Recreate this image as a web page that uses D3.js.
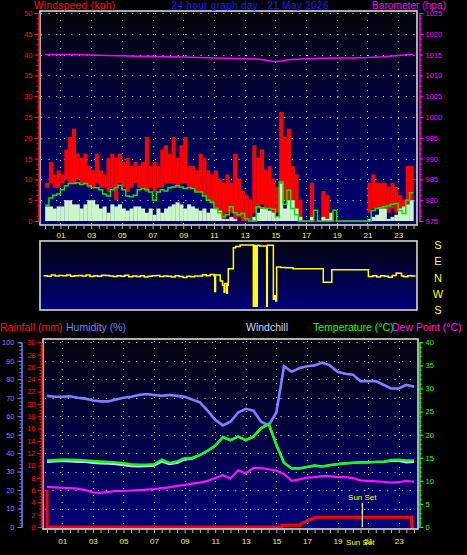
<!DOCTYPE html>
<html><head><meta charset="utf-8">
<script src="https://cdn.jsdelivr.net/npm/d3@7"></script>
<style>body{margin:0;background:#000;}svg{display:block;}</style>
</head><body>
<script>
// ---------- DATA ----------
// Top chart: 15-minute samples (96)
const windGust = [
 9,14,11,12, 11,17,20,22, 16,15,16,13, 12,16,12,11, 15,16,15,16, 14,15,13,14,
 13,14,20,13, 14,13,17,18, 16,20,15,18, 20,13,13,12, 16,15,12,11, 12,10,9,11,
 9,16,10,7, 6,5,18,15, 17,12,13,10, 8,26,20,22, 13,11,5,0, 0,9,0,0,
 7,6,1,0, 0,0,0,0, 0,0,0,0, 9,11,9,9, 9,8,9,8, 6,5,13,13];
const windSpeed = [
 8,9,8,8, 9,10,9,9, 10,9,9,8, 8,9,8,8, 7,8,5,9, 8,7,8,9,
 8,8,7,8, 7,8,8,9, 9,9,8,9, 9,8,8,7, 7,6,5,4, 3,2,0,2,
 2,0,1,0, 0,0,2,3, 4,3,3,1, 2,4,5,3, 2,1,0,0, 0,1,0,0,
 1,0,0,0, 0,0,0,0, 0,0,0,0, 2,3,3,3, 3,2,3,2, 1,2,4,5];
const windAvg = [
 3.5,3.5,3,3.5, 3.5,5,5,4, 4,3,4,5, 5,4,3,3.5, 2,4,3.5,4, 3,2.5,3,3.5,
 3.5,3,2,3, 1.5,3,2,3, 3.5,4,4.5,4, 3,4,3.5,3, 2.5,3,2,3, 3,2.5,0.5,0.5,
 1,0.5,0,0, 0,0,1,2, 3,3,2.5,2, 1,9,3,5, 5,3,1,0, 0,1,0,0,
 1,0.5,2,0, 0,0,0,0, 0,0,0,0, 0.5,1,1.5,3, 3,0.5,1,1.5, 3,3.5,4,5];
const windMean = [
 3.8,5.5,6.2,6.5, 7.5,8.5,9,9, 9.2,8.8,9,8.5, 8,8,7.5,6.5, 6,7.5,8,8.6, 7.5,6,5.8,6.2,
 7.5,7.8,7.5,7, 5,7,7.5,7.2, 8,8.2,8.5,8.2, 7.8,8,7.8,7, 7,6,5,4.5, 3,2,1,1.5,
 3.4,2,1.5,1.8, 0.5,0,0,3.4, 3.2,3,3,2.8, 1,9.4,4,7.4, 3,1.5,0,0, 0,0,2.6,0,
 0,0,0,2.6, 0,0,0,0, 0,0,0,0, 0,2.5,3,3.2, 3.4,3.6,4,4.2, 2.5,1.8,5,6.8];
// hourly barometer (25)
const barometer = [1015.0,1015.0,1015.0,1014.9,1014.8,1014.7,1014.6,1014.6,1014.5,1014.4,1014.3,1014.2,
 1014.1,1014.0,1013.9,1013.3,1013.8,1014.0,1014.1,1014.2,1014.2,1014.3,1014.5,1014.8,1015.1];
// wind direction, signed degrees (+ = east)
const dirHours = [0,0.25,0.5,0.75,1,1.25,1.5,1.75,2,2.25,2.5,2.75,3,3.25,3.5,3.75,4,4.25,4.5,4.75,
 5,5.25,5.5,5.75,6,6.25,6.5,6.75,7,7.25,7.5,7.75,8,8.25,8.5,8.75,9,9.25,9.5,9.75,10,
 10.25,10.5,10.75,11,11.05,11.1,11.4,11.55,11.65,11.7,11.82,11.86,11.92,12.25,12.4,12.68,
 13.54,13.58,13.63,13.67,13.75,13.79,13.95,14.4,14.44,14.83,14.9,14.98,15.04,15.3,15.6,16.1,
 18.05,18.6,20.96,21.25,21.5,21.75,22,22.25,22.5,22.75,22.9,23.1,23.25,23.5,23.75,24];
const dirValues = [5,2,8,3,6,4,8,2,5,6,3,8,0,5,2,7,6,3,0,5,
 2,7,-2,3,0,4,-3,2,5,6,0,3,2,-3,4,0,-5,2,-2,3,3,
 10,5,12,5,-85,8,-25,-50,-90,-40,-95,-50,44,165,172,180,
 -170,178,-170,176,-170,178,175,-170,178,-130,-110,-140,55,52,50,44,
 -33,38,0,5,-3,4,2,-4,6,20,18,3,-2,5,3,3];
const dirLabels = [["S",180],["E",90],["N",0],["W",-90],["S",-180]];
// Bottom chart: 30-minute samples (49)
const humidity = [71,70.5,70.5,70.8,70,69.5,68.5,68,68,69,70,70.5,71.5,72,71.5,71,71.5,71,70.5,69,
 67.5,63,58,55,57,62,64,63,57,55,62,87,84,86,87,87.5,89,87.5,84,83,82.5,79,79,79,77,75,75,77,76];
const temperature = [14.4,14.5,14.6,14.6,14.5,14.4,14.3,14.2,14.1,14.0,13.8,13.6,13.5,13.5,13.6,14.6,13.9,14.2,14.9,15.0,
 15.6,16.5,17.6,19.5,18.8,19.6,18.8,19.6,21.4,22.3,17.8,13.9,12.7,12.7,13.0,13.3,13.1,13.4,13.6,13.8,
 13.9,14.0,14.0,14.1,14.1,14.5,14.6,14.4,14.4];
const windchill = [14.1,14.2,14.3,14.2,14.1,14.1,13.9,13.8,13.7,13.6,13.4,13.2,13.1,13.2,13.3,14.2,13.6,13.9,14.6,14.8,
 15.6,16.5,17.6,19.5,18.8,19.6,18.8,19.6,21.4,22.3,17.8,13.9,12.7,12.7,13.0,13.3,13.1,13.4,13.6,13.8,
 13.9,14.0,14.0,14.1,14.1,14.3,14.3,14.0,14.1];
const dewPoint = [8.7,8.6,8.5,8.4,8.3,8.0,7.5,7.4,7.6,7.8,7.8,7.9,8.0,8.1,8.2,8.4,8.6,8.9,9.1,9.4,
 9.6,10.0,10.6,11.2,10.5,12.3,11.6,12.8,12.8,12.5,12.2,11.5,10.0,10.3,10.7,10.8,11.0,11.0,10.8,10.8,
 10.6,10.1,10.0,9.9,9.8,9.6,9.7,10.0,9.8];
const rainHours = [0,0,15.35,15.35,16.55,16.55,17.0,17.3,17.6,23.85,23.85,24];
const rainValues = [6,0,0,0.3,0.3,0.45,1.0,1.3,1.6,1.6,0,0];
const sunsetHour = 20.62;
const hourLabels = ["01","03","05","07","09","11","13","15","17","19","21","23"];
const titleText = "24 hour graph day : 21 May 2026";

// ---------- DRAW ----------
const W=467,H=555;
const FONT="'Liberation Sans', Arial, sans-serif";
const svg=d3.select("body").append("svg").attr("width",W).attr("height",H).style("background","#000");
const defs=svg.append("defs");
function grad(id){
  const g=defs.append("linearGradient").attr("id",id).attr("x1",0).attr("y1",0).attr("x2",0).attr("y2",1);
  g.append("stop").attr("offset","0%").attr("stop-color","#04040c");
  g.append("stop").attr("offset","100%").attr("stop-color","#00007a");
}
grad("bg");
const hourOf = i=>i*0.25, hourOf2=i=>i*0.5;
const GRID="#e8e8e8";
const fmt=d3.format("d");

function txt(x,y,s,color,size,anchor){
  return svg.append("text").attr("x",x).attr("y",y).text(s).attr("fill",color)
    .attr("font-family",FONT).attr("font-size",size).attr("text-anchor",anchor||"start");
}
function styleAxis(g,color,size){
  g.selectAll("path,line").attr("stroke",color);
  g.selectAll("text").attr("fill",color).attr("font-family",FONT).attr("font-size",size||7.5);
}

// ===== TOP PANEL =====
const xT=d3.scaleLinear([0,24],[45.1,413.5]);
const yW=d3.scaleLinear([0,50],[221,13]);
const yB=d3.scaleLinear([975,1025],[221,13]);
const topG=svg.append("g");
topG.append("rect").attr("x",40).attr("y",11).attr("width",377).attr("height",214).attr("fill","url(#bg)");
topG.append("g").selectAll("line").data(d3.range(5,51,5)).join("line")
  .attr("x1",41).attr("x2",416).attr("y1",d=>Math.round(yW(d))+0.5).attr("y2",d=>Math.round(yW(d))+0.5)
  .attr("stroke",GRID).attr("stroke-dasharray","1,6.6");
topG.append("g").selectAll("line").data(d3.range(1,24,2)).join("line")
  .attr("x1",d=>Math.round(xT(d))+0.5).attr("x2",d=>Math.round(xT(d))+0.5).attr("y1",13).attr("y2",224)
  .attr("stroke",GRID).attr("stroke-dasharray","1,6");
const bw=(xT(0.25)-xT(0));
const wd=windGust.map((g,i)=>({h:hourOf(i),g,s:windSpeed[i],a:windAvg[i],m:windMean[i]}));
topG.append("g").selectAll("rect").data(wd).join("rect")
  .attr("x",d=>xT(d.h)).attr("width",bw+0.2)
  .attr("y",d=>yW(d.g)-0.8).attr("height",d=>Math.max(1.6,yW(d.s)-yW(d.g)+0.8))
  .attr("fill","#ff0000");
topG.append("g").selectAll("rect").data(wd.filter(d=>d.a>0)).join("rect")
  .attr("x",d=>xT(d.h)).attr("width",bw+0.2)
  .attr("y",d=>yW(d.a)).attr("height",d=>yW(0)-yW(d.a))
  .attr("fill","#ccf5cc");
const meanPts=wd.map(d=>[d.h,d.m]).concat([[24,windMean[95]]]);
topG.append("path").datum(meanPts)
  .attr("d",d3.line().x(d=>xT(d[0])).y(d=>yW(d[1])).curve(d3.curveStepAfter))
  .attr("fill","none").attr("stroke","#10e010").attr("stroke-width",1.5);
topG.append("path").datum(barometer.map((v,i)=>[i,v]))
  .attr("d",d3.line().x(d=>xT(d[0])).y(d=>yB(d[1])))
  .attr("fill","none").attr("stroke","#ff00ff").attr("stroke-width",1.5);
topG.append("rect").attr("x",40).attr("y",11).attr("width",377).attr("height",214)
  .attr("fill","none").attr("stroke","#d8d8d8").attr("stroke-width",1.6);
let g=svg.append("g").attr("transform","translate(38.5,0)")
  .call(d3.axisLeft(yW).tickValues(d3.range(0,50.1,1.25)).tickSize(2).tickFormat(""));
styleAxis(g,"#ff1010");
g=svg.append("g").attr("transform","translate(38.5,0)")
  .call(d3.axisLeft(yW).tickValues(d3.range(0,51,5)).tickSize(4).tickSizeOuter(0).tickPadding(2).tickFormat(fmt));
styleAxis(g,"#ff1010");
g=svg.append("g").attr("transform","translate(419.5,0)")
  .call(d3.axisRight(yB).tickValues(d3.range(975,1025.1,1.25)).tickSize(2).tickFormat(""));
styleAxis(g,"#ff00ff");
g=svg.append("g").attr("transform","translate(419.5,0)")
  .call(d3.axisRight(yB).tickValues(d3.range(975,1026,5)).tickSize(4).tickSizeOuter(0).tickPadding(2).tickFormat(fmt));
styleAxis(g,"#ff00ff");
g=svg.append("g").attr("transform","translate(0,226)")
  .call(d3.axisBottom(xT).tickValues(d3.range(0,24.01,0.5)).tickSize(3).tickFormat("").tickSizeOuter(0));
g.select(".domain").remove(); styleAxis(g,"#b8b8b8");
g=svg.append("g").attr("transform","translate(0,226)")
  .call(d3.axisBottom(xT).tickValues(d3.range(1,24,2)).tickSize(0).tickPadding(6).tickFormat((d,i)=>hourLabels[i]));
g.select(".domain").remove(); styleAxis(g,"#ffff00",8);
txt(34,9,"Windspeed (kph)","#ff1010",10).attr("textLength",81).attr("lengthAdjust","spacing");
txt(171.5,9,titleText,"#1c1cff",10).attr("textLength",157).attr("lengthAdjust","spacing");
txt(372,9,"Barometer (hpa)","#ff00ff",10).attr("textLength",74).attr("lengthAdjust","spacing");

// ===== MIDDLE PANEL =====
const xD=d3.scaleLinear([0,24],[43.5,415.5]);
const yD=d3.scaleLinear([-180,180],[308,245]);
svg.append("rect").attr("x",40).attr("y",241).attr("width",377).attr("height",69).attr("fill","url(#bg)");
const dirPts=dirHours.map((h,i)=>[h,dirValues[i]]);
svg.append("path").datum(dirPts)
  .attr("d",d3.line().x(d=>xD(d[0])).y(d=>yD(d[1])).curve(d3.curveStepAfter))
  .attr("fill","none").attr("stroke","#ffff00").attr("stroke-width",1.5);
svg.append("rect").attr("x",40).attr("y",241).attr("width",377).attr("height",69)
  .attr("fill","none").attr("stroke","#d8d8d8").attr("stroke-width",1.6);
svg.append("g").selectAll("text").data(dirLabels).join("text")
  .attr("x",438).attr("y",d=>d3.scaleLinear([-180,180],[310,245])(d[1])+4).text(d=>d[0])
  .attr("fill","#ffff00").attr("font-family",FONT).attr("font-size",11).attr("text-anchor","middle");

// ===== BOTTOM PANEL =====
const xB=d3.scaleLinear([0,24],[47,414]);
const yR=d3.scaleLinear([0,30],[527,342.3]);
const yH=d3.scaleLinear([0,100],[527,342.3]);
const yT=d3.scaleLinear([0,40],[527,342.3]);
const bot=svg.append("g");
bot.append("rect").attr("x",43).attr("y",339).attr("width",375).attr("height",190).attr("fill","url(#bg)");
bot.append("g").selectAll("line").data(d3.range(10,101,10)).join("line")
  .attr("x1",45).attr("x2",417).attr("y1",d=>Math.round(yH(d))+0.5).attr("y2",d=>Math.round(yH(d))+0.5)
  .attr("stroke",GRID).attr("stroke-dasharray","1,6.6");
bot.append("g").selectAll("line").data(d3.range(1,24,2)).join("line")
  .attr("x1",d=>Math.round(xB(d))+0.5).attr("x2",d=>Math.round(xB(d))+0.5).attr("y1",341).attr("y2",528)
  .attr("stroke",GRID).attr("stroke-dasharray","1,6");
const ln=(ys)=>d3.line().x(d=>xB(d[0])).y(d=>ys(d[1]));
bot.append("path").datum(humidity.map((v,i)=>[hourOf2(i),v])).attr("d",ln(yH))
  .attr("fill","none").attr("stroke","#7f7fff").attr("stroke-width",2.6);
bot.append("path").datum(windchill.map((v,i)=>[hourOf2(i),v])).attr("d",ln(yT))
  .attr("fill","none").attr("stroke","#c8d8ff").attr("stroke-width",2.2);
bot.append("path").datum(temperature.map((v,i)=>[hourOf2(i),v])).attr("d",ln(yT))
  .attr("fill","none").attr("stroke","#10ff10").attr("stroke-width",2.4);
bot.append("path").datum(dewPoint.map((v,i)=>[hourOf2(i),v])).attr("d",ln(yT))
  .attr("fill","none").attr("stroke","#ff10ff").attr("stroke-width",2.2);
bot.append("path").datum(rainHours.map((h,i)=>[h,rainValues[i]])).attr("d",ln(yR))
  .attr("fill","none").attr("stroke","#ff0000").attr("stroke-width",3);
bot.append("line").attr("x1",xB(sunsetHour)).attr("x2",xB(sunsetHour)).attr("y1",503).attr("y2",527)
  .attr("stroke","#ffffff").attr("stroke-width",1);
bot.append("line").attr("x1",xB(sunsetHour)).attr("x2",xB(sunsetHour)).attr("y1",503).attr("y2",527)
  .attr("stroke","#ffff40").attr("stroke-width",1).attr("stroke-dasharray","4,3");
txt(xB(sunsetHour),500,"Sun Set","#ffff00",8,"middle");
bot.append("rect").attr("x",43).attr("y",339).attr("width",375).attr("height",190)
  .attr("fill","none").attr("stroke","#d8d8d8").attr("stroke-width",1.6);
g=svg.append("g").attr("transform","translate(21.5,0)")
  .call(d3.axisLeft(yH).tickValues(d3.range(0,100.1,2)).tickSize(2).tickFormat(""));
styleAxis(g,"#7f7fff");
g=svg.append("g").attr("transform","translate(21.5,0)")
  .call(d3.axisLeft(yH).tickValues(d3.range(0,101,10)).tickSize(4).tickSizeOuter(0).tickPadding(3).tickFormat(fmt));
styleAxis(g,"#7f7fff");
g=svg.append("g").attr("transform","translate(41.5,0)")
  .call(d3.axisLeft(yR).tickValues(d3.range(0,30.1,0.5)).tickSize(2).tickFormat(""));
styleAxis(g,"#ff1010");
g=svg.append("g").attr("transform","translate(41.5,0)")
  .call(d3.axisLeft(yR).tickValues(d3.range(0,31,2)).tickSize(4).tickSizeOuter(0).tickPadding(2).tickFormat(fmt));
styleAxis(g,"#ff1010");
g=svg.append("g").attr("transform","translate(419.5,0)")
  .call(d3.axisRight(yT).tickValues(d3.range(0,40.1,1)).tickSize(2).tickFormat(""));
styleAxis(g,"#10ff10");
g=svg.append("g").attr("transform","translate(419.5,0)")
  .call(d3.axisRight(yT).tickValues(d3.range(0,41,5)).tickSize(4).tickSizeOuter(0).tickPadding(2).tickFormat(fmt));
styleAxis(g,"#10ff10");
g=svg.append("g").attr("transform","translate(0,530)")
  .call(d3.axisBottom(xB).tickValues(d3.range(0,24.01,0.5)).tickSize(3).tickFormat("").tickSizeOuter(0));
g.select(".domain").remove(); styleAxis(g,"#b8b8b8");
g=svg.append("g").attr("transform","translate(0,530)")
  .call(d3.axisBottom(xB).tickValues(d3.range(1,24,2)).tickSize(0).tickPadding(8).tickFormat((d,i)=>hourLabels[i]));
g.select(".domain").remove(); styleAxis(g,"#ffff00",8);
txt(xB(sunsetHour)-2,545,"Sun Set","#ffff00",8,"middle");
txt(0,331,"Rainfall (mm)","#ff1010",10.5);
txt(66,331,"Humidity (%)","#7f7fff",10.5);
txt(246,331,"Windchill","#c8d8ff",10.5);
txt(313,331,"Temperature (°C)","#10ff10",10.5);
txt(392,331,"Dew Point (°C)","#ff10ff",10.5);
</script>
</body></html>
